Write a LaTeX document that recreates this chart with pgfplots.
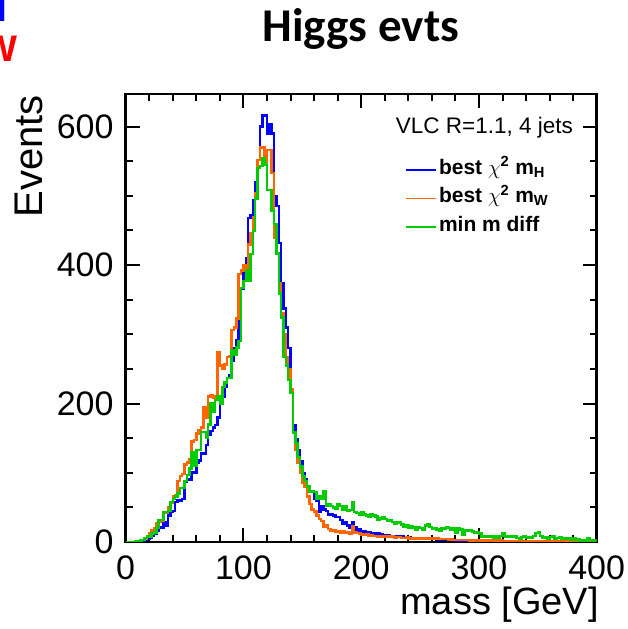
\documentclass[border=0pt]{standalone}
\usepackage{pgfplots}
\pgfplotsset{compat=1.18}
\usepackage{pgfplotstable}
\usepackage{fontspec}
\setmainfont{Liberation Sans}
\newfontfamily\titlefont{Carlito}
\definecolor{hblue}{RGB}{0,0,255}
\definecolor{horange}{RGB}{255,102,0}
\definecolor{hgreen}{RGB}{0,204,0}
\pgfplotstableread{
x b o g
0 0 0 0
2 0 0 0
4 0 0 0
6 0 0 0
8 0 0 1
10 0 1 1
12 1 2 2
14 2 3 3
16 3 5 6
18 4 8 8
20 6 12 8
22 9 17 12
24 12 20 14
26 16 27 20
28 22 29 32
30 20 31 32
32 28 42 43
34 24 42 43
36 38 50 45
38 43 56 58
40 45 66 62
42 58 68 66
44 60 88 70
46 60 95 78
48 62 98 78
50 87 112 88
52 90 115 97
54 90 120 106
56 101 145 130
58 100 147 110
60 115 157 133
62 118 162 133
64 128 165 159
66 128 195 159
68 140 180 150
70 155 210 170
72 160 212 200
74 165 208 188
76 169 210 205
78 180 274 210
80 205 255 200
82 210 250 224
84 224 256 230
86 237 267 237
88 241 268 237
90 262 306 277
92 280 310 270
94 291 323 281
96 330 387 290
98 366 392 367
100 389 400 377
102 410 392 392
104 468 430 377
106 472 446 416
108 494 469 449
110 520 504 496
112 552 552 540
114 600 570 543
116 616 570 554
118 616 547 545
120 590 566 508
122 604 566 508
124 590 533 479
126 500 439 459
128 485 416 417
130 432 373 359
132 374 330 324
134 337 300 267
136 310 267 255
138 280 249 234
140 220 220 215
142 169 158 158
144 149 133 143
146 133 115 123
148 116 100 109
150 100 85 95
152 90 80 88
154 78 66 80
156 73 55 72
158 72 47 74
160 62 44 72
162 60 38 62
164 43 33 66
166 52 30 62
168 47 22 73
170 45 24 52
172 40 19 55
174 40 16 52
176 38 17 50
178 36 15 48
180 36 16 55
182 32 14 52
184 26 15 47
186 28 13 52
188 24 14 45
190 20 12 46
192 29 23 58
194 22 14 43
196 16 13 42
198 18 12 40
200 14 11 43
202 15 10 40
204 13 11 38
206 14 9 36
208 12 10 40
210 13 9 38
212 11 9 37
214 12 8 32
216 11 8 34
218 10 9 36
220 9 7 33
222 10 8 30
224 9 7 31
226 8 8 29
228 9 6 26
230 8 7 28
232 7 7 29
234 8 6 25
236 7 6 22
238 6 7 24
240 7 5 20
242 6 6 23
244 6 5 21
246 5 6 18
248 6 5 22
250 5 5 20
252 5 6 18
254 4 5 24
256 5 5 25
258 4 4 22
260 4 5 19
262 4 4 20
264 3 5 18
266 4 4 16
268 3 4 20
270 3 4 19
272 3 4 21
274 3 3 20
276 3 4 18
278 2 3 20
280 3 3 14
282 2 3 20
284 3 3 18
286 2 3 10
288 2 3 17
290 2 3 16
292 2 2 17
294 2 3 15
296 2 2 13
298 2 2 14
300 2 2 12
302 1 2 8
304 2 2 9
306 1 2 7
308 2 2 8
310 1 2 9
312 1 1 6
314 2 2 8
316 1 1 6
318 1 2 9
320 1 1 12
322 1 1 8
324 1 1 7
326 1 1 9
328 1 1 7
330 1 1 8
332 1 1 6
334 1 1 5
336 1 1 7
338 1 1 8
340 1 1 6
342 1 1 7
344 1 1 6
346 1 1 9
348 1 1 13
350 1 1 14
352 1 1 9
354 1 1 6
356 1 1 7
358 1 1 5
360 1 1 7
362 1 1 8
364 1 1 5
366 1 1 6
368 1 1 7
370 1 1 5
372 1 1 6
374 1 1 4
376 1 1 5
378 0 1 3
380 1 1 5
382 0 1 3
384 1 0 4
386 0 1 2
388 1 0 3
390 0 1 2
392 0 0 6
394 1 1 3
396 0 0 2
398 0 1 3
400 0 1 3
}\histdata
\begin{document}
\begin{tikzpicture}[x=1pt,y=1pt]
\useasboundingbox (0,0) rectangle (627,629);
\begin{axis}[
  at={(125.7pt,87pt)}, anchor=south west,
  scale only axis, width=471pt, height=448pt,
  xmin=0, xmax=400, ymin=0, ymax=647,
  xtick={0,100,200,300,400}, minor x tick num=4,
  ytick={0,200,400,600}, minor y tick num=3,
  tick align=inside,
  major tick length=14pt, minor tick length=7pt,
  axis line style={line width=2.6pt},
  every tick/.style={black, line width=2pt},
  /pgf/number format/assume math mode=true,
  tick label style={font=\fontsize{34}{40}\selectfont},
  xticklabel style={inner sep=0pt, yshift=-14pt},
  yticklabel style={inner sep=0pt, xshift=-12pt},
  legend style={at={(0.593,0.8575)}, anchor=north west, draw=none, fill=none,
    inner sep=0pt, font=\fontsize{21}{24}\selectfont\bfseries, row sep=4.5pt,
    cells={anchor=west}, nodes={inner sep=2pt, text height=14pt, text depth=6pt}},
  legend image code/.code={\draw[#1, line width=1.8pt] (0pt,0pt) -- (30pt,0pt);},
]
\addplot[const plot, hblue, line width=2.5pt] table[x=x,y=b]{\histdata};
\addplot[const plot, horange, line width=2.5pt] table[x=x,y=o]{\histdata};
\addplot[const plot, hgreen, line width=2.5pt] table[x=x,y=g]{\histdata};
\legend{best $\chi$\textsuperscript{2} m\textsubscript{H}, best $\chi$\textsuperscript{2} m\textsubscript{W}, min m diff}
\node[anchor=east, inner sep=0pt, font=\fontsize{22.5}{26}\selectfont] at (rel axis cs:0.95,0.924) {VLC R=1.1, 4 jets};
\end{axis}
\node[anchor=base, inner sep=0pt, font=\titlefont\bfseries\fontsize{47}{54}\selectfont] at (361,587) {Higgs evts};
\node[anchor=base east, inner sep=0pt, font=\fontsize{38}{44}\selectfont] at (599,14) {mass [GeV]};
\node[rotate=90, anchor=base east, inner sep=0pt, font=\fontsize{40}{46}\selectfont] at (42,534) {Events};
\node[anchor=base east, inner sep=0pt, text=hblue, font=\fontsize{37}{40}\selectfont\bfseries] at (7,607) {H};
\node[anchor=base east, inner sep=0pt, text=red, font=\fontsize{37}{40}\selectfont\bfseries] at (18,567) {W};
\end{tikzpicture}
\end{document}
